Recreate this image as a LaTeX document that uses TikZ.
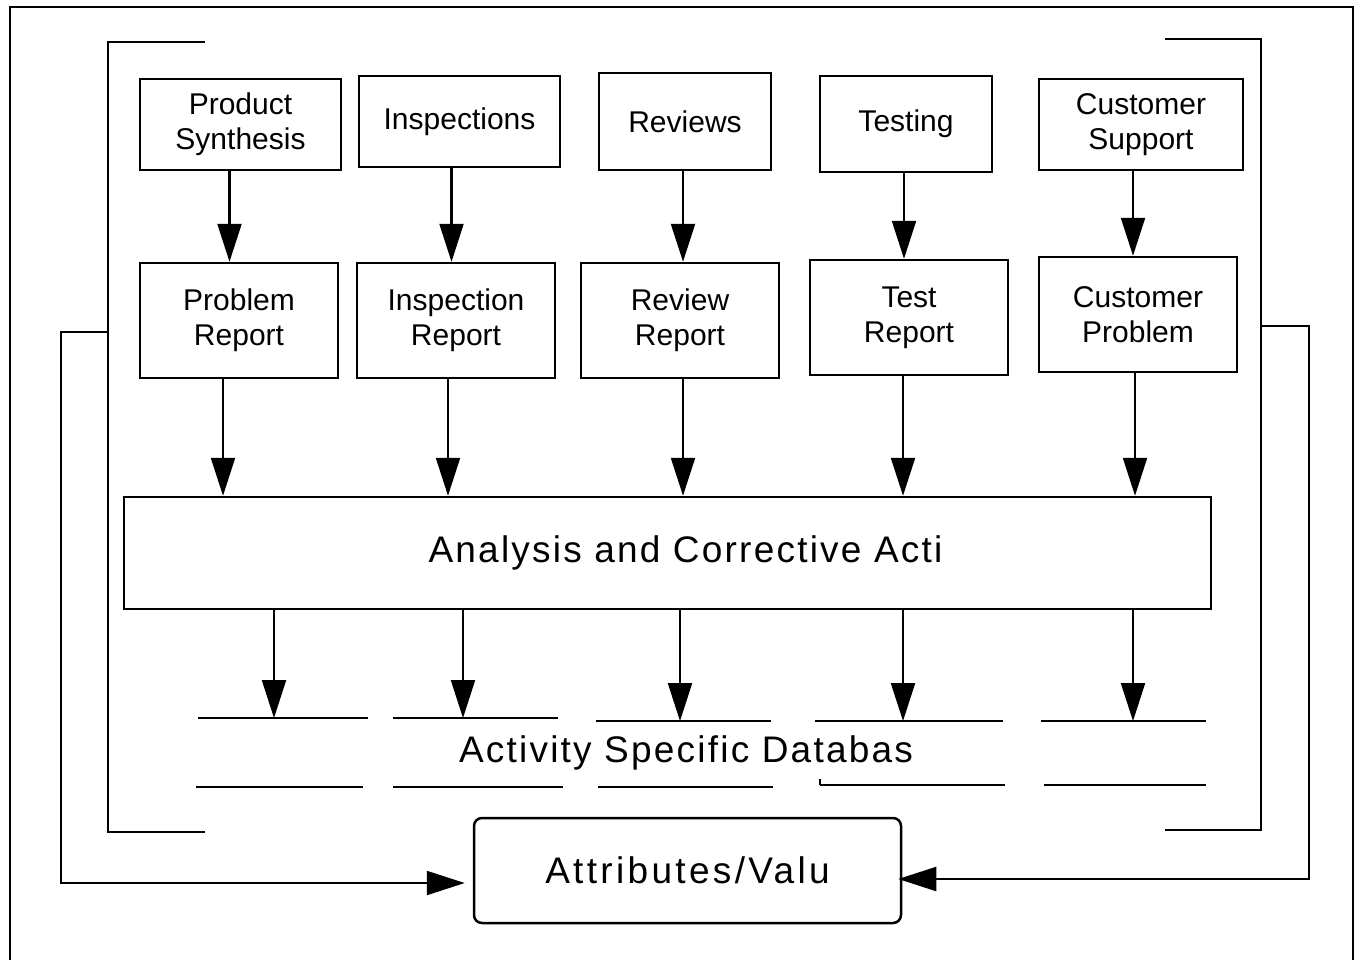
\documentclass[tikz,border=0pt]{standalone}
\usepackage{fontspec}
\setmainfont{Liberation Sans}
\newfontfamily\widefont[LetterSpace=6]{Liberation Sans}
\newfontfamily\widerfont[LetterSpace=9]{Liberation Sans}
\usetikzlibrary{arrows.meta}

\begin{document}
\begin{tikzpicture}[x=1pt,y=1pt,yscale=-1,
  box/.style={draw,line width=2.5pt,align=center,inner sep=0pt,font=\fontsize{30}{35}\selectfont},
  arr/.style={line width=2.2pt,-{Triangle[length=38pt,width=24pt]}},
  rule/.style={line width=2.5pt},
  bigtext/.style={font=\widefont\fontsize{37}{40}\selectfont}]
\useasboundingbox (0,0) rectangle (1359,959);

% outer frame and brackets
\draw[rule] (10,965) -- (10,7) -- (1353,7) -- (1353,965);
\draw[rule] (205,42) -- (108,42) -- (108,832) -- (205,832);
\draw[rule] (1165,39) -- (1261,39) -- (1261,830) -- (1165,830);
\coordinate (lb) at (108,332);
\coordinate (rb) at (1261,326);

% sources
\node[box,minimum width=201pt,minimum height=91pt] (ps) at (240.5,124.5) {Product\\Synthesis};
\node[box,minimum width=201pt,minimum height=91pt] (ins) at (459.5,121.5) {Inspections};
\node[box,minimum width=172pt,minimum height=97pt] (rev) at (685,121.5) {Reviews};
\node[box,minimum width=172pt,minimum height=96pt] (tst) at (906,124) {Testing};
\node[box,minimum width=204pt,minimum height=91pt] (cs) at (1141,124.5) {Customer\\Support};

% reports
\node[box,minimum width=198pt,minimum height=115pt] (pr) at (239,320.5) {Problem\\Report};
\node[box,minimum width=198pt,minimum height=115pt] (ir) at (456,320.5) {Inspection\\Report};
\node[box,minimum width=198pt,minimum height=115pt] (rr) at (680,320.5) {Review\\Report};
\node[box,minimum width=198pt,minimum height=115pt] (tr) at (909,317.5) {Test\\Report};
\node[box,minimum width=198pt,minimum height=115pt] (cp) at (1138,314.5) {Customer\\Problem};

% analysis
\node[box,bigtext,minimum width=1087pt,minimum height=112pt] (ana) at (667.5,553) {\hspace*{36pt}Analysis and Corrective Acti};

\foreach \a/\b/\dx in {ps/pr/-11, ins/ir/-8, rev/rr/-2, tst/tr/-2, cs/cp/-8}
  \draw[arr] ([xshift=\dx pt]\a.south) -- ([xshift=\dx pt]\a.south |- \b.north);
\foreach \a/\dx in {pr/-16, ir/-8, rr/3, tr/-6, cp/-3}
  \draw[arr] ([xshift=\dx pt]\a.south) -- ([xshift=\dx pt]\a.south |- ana.north);

% databases
\coordinate (db1) at (274,718);
\coordinate (db2) at (463,718);
\coordinate (db3) at (680,721);
\coordinate (db4) at (903,721);
\coordinate (db5) at (1133,721);
\foreach \i in {1,...,5}
  \draw[arr] (ana.south -| db\i) -- (db\i);
\foreach \xa/\xb/\y in {198/368/718, 393/558/718, 596/771/721, 815/1003/721, 1041/1206/721,
                        196/363/787, 393/563/787, 598/773/787, 820/1005/785, 1044/1206/785}
  \draw[rule] (\xa,\y) -- (\xb,\y);
\draw[rule] (820,779) -- (820,785);
\node[bigtext] (dbtext) at (686,753) {Activity Specific Databas};

% attributes
\node[draw,rule,rounded corners=8pt,font=\widerfont\fontsize{37}{40}\selectfont,minimum width=427pt,minimum height=105pt] (attr) at (687.5,870.5) {Attributes/Valu};
\coordinate (lf) at (61,883);
\coordinate (rf) at (1309,879);
\draw[arr,shorten >=8pt] (lb) -- (61,332) -- (lf) -- (lf -| attr.west);
\draw[arr,shorten >=-4pt] (rb) -- (1309,326) -- (rf) -- (rf -| attr.east);

\end{tikzpicture}
\end{document}
